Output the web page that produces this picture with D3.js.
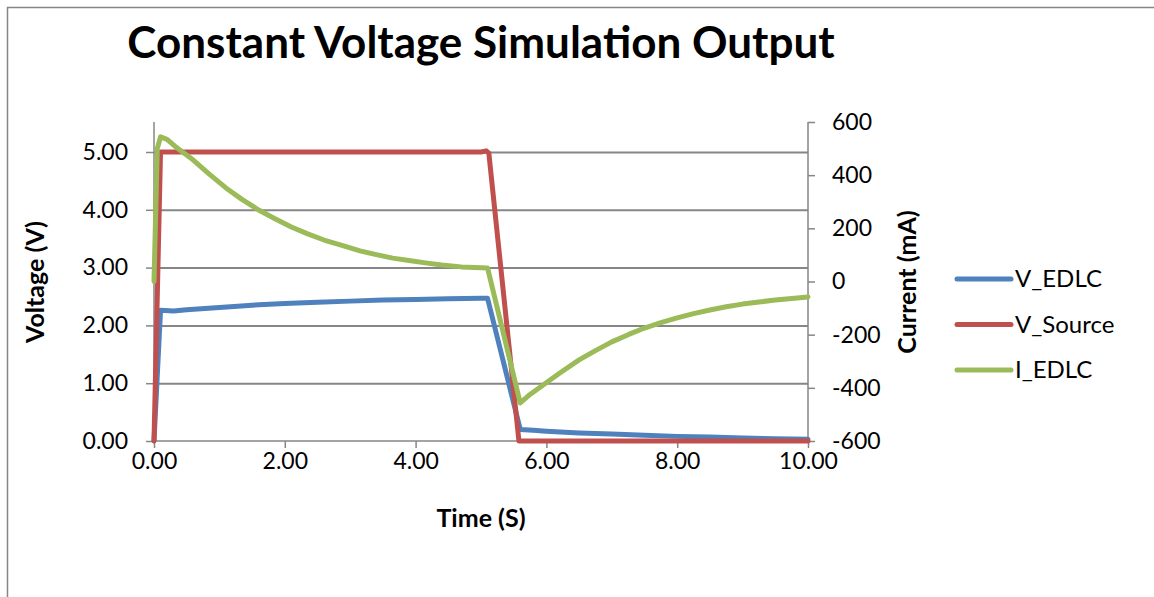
<!DOCTYPE html>
<html>
<head>
<meta charset="UTF-8">
<style>
body { margin: 0; background: #fff; }
svg text { font-family: Lato, "Open Sans", sans-serif; fill: #000; }
.axis path, .axis line { stroke: #868686; stroke-width: 1.5px; }
.axis text { font-size: 23px; }
.grid line { stroke: #868686; stroke-width: 2px; }
.grid path { display: none; }
.line { fill: none; stroke-width: 5px; stroke-linejoin: round; stroke-linecap: round; }
</style>
</head>
<body>
<svg width="1154" height="597"></svg>
<script src="https://cdnjs.cloudflare.com/ajax/libs/d3/7.8.5/d3.min.js"></script>
<script>
// time samples (s) and values
var tVSource = [0, 0.1, 1, 2, 3, 4, 5, 5.08, 5.12, 5.58, 6, 7, 8, 9, 10];
var vSource  = [0, 5.0, 5.0, 5.0, 5.0, 5.0, 5.0, 5.02, 4.98, 0.0, 0, 0, 0, 0, 0];

var tVEdlc = [0, 0.1, 0.3, 0.5, 1, 1.5, 2, 2.5, 3, 3.5, 4, 4.5, 5, 5.1, 5.6, 5.8, 6, 6.5, 7, 7.5, 8, 8.5, 9, 9.5, 10];
var vEdlc  = [0, 2.26, 2.25, 2.27, 2.31, 2.35, 2.38, 2.40, 2.42, 2.44, 2.45, 2.46, 2.47, 2.47, 0.20, 0.185, 0.17, 0.14, 0.12, 0.10, 0.08, 0.07, 0.05, 0.04, 0.03];

var tIEdlc = [0, 0.05, 0.1, 0.2, 0.35, 0.6, 0.85, 1.1, 1.35, 1.6, 1.85, 2.1, 2.35, 2.6, 2.9, 3.15, 3.4, 3.65, 3.9, 4.15, 4.4, 4.7, 5.1,
              5.6, 5.75, 5.95, 6.2, 6.5, 6.75, 7, 7.25, 7.5, 7.75, 8, 8.25, 8.5, 8.75, 9, 9.25, 9.5, 9.75, 10];
var iEdlc  = [0, 500, 544, 535, 503, 457, 403, 352, 308, 269, 236, 205, 179, 156, 134, 115, 101, 88, 79, 70, 62, 55, 51,
              -457, -425, -389, -345, -295, -260, -227, -200, -175, -155, -137, -121, -107, -95, -85, -77, -70, -64, -58];

var seriesNames = ["V_EDLC", "V_Source", "I_EDLC"];
var seriesColors = ["#4F81BD", "#C0504D", "#9BBB59"];

var xTicks = [0, 2, 4, 6, 8, 10];
var vTicks = [0, 1, 2, 3, 4, 5];
var iTicks = [-600, -400, -200, 0, 200, 400, 600];

var svg = d3.select("svg");

// chart border (top and left visible)
svg.append("path")
    .attr("d", "M7.5,597 L7.5,7.5 L1154,7.5")
    .attr("fill", "none")
    .attr("stroke", "#868686")
    .attr("stroke-width", 1.5);

var plotLeft = 154, plotRight = 808, plotBottom = 441, plotTop = 122;

var x = d3.scaleLinear().domain([0, 10]).range([plotLeft, plotRight]);
var yV = d3.scaleLinear().domain([0, 5]).range([plotBottom, 152]);
var yI = d3.scaleLinear().domain([-600, 600]).range([plotBottom, plotTop]);

// gridlines
svg.append("g")
    .attr("class", "grid")
    .attr("transform", "translate(" + plotLeft + ",0)")
    .call(d3.axisLeft(yV).tickValues(vTicks.slice(1)).tickSize(-(plotRight - plotLeft)).tickFormat(""));

// left axis
svg.append("g")
    .attr("class", "axis")
    .attr("transform", "translate(" + plotLeft + ",0)")
    .call(d3.axisLeft(yV).tickValues(vTicks).tickSize(8).tickPadding(18).tickFormat(d3.format(".2f")))
  .select(".domain").attr("d", "M0," + plotTop + "V" + plotBottom);

// right axis
svg.append("g")
    .attr("class", "axis")
    .attr("transform", "translate(" + plotRight + ",0)")
    .call(d3.axisRight(yI).tickValues(iTicks).tickSize(7).tickPadding(17).tickFormat(function(d) { return d < 0 ? "-" + Math.abs(d) : d; }))
  .select(".domain").attr("d", "M0," + plotTop + "V" + plotBottom);

// bottom axis
svg.append("g")
    .attr("class", "axis")
    .attr("transform", "translate(0," + plotBottom + ")")
    .call(d3.axisBottom(x).tickValues(xTicks).tickSize(7).tickPadding(5).tickFormat(d3.format(".2f")))
  .select(".domain").attr("d", "M" + plotLeft + ",0H" + plotRight);

// lines
var lineV = d3.line().x(function(d) { return x(d[0]); }).y(function(d) { return yV(d[1]); });
var lineI = d3.line().x(function(d) { return x(d[0]); }).y(function(d) { return yI(d[1]); });

svg.append("path").attr("class", "line").style("stroke", seriesColors[0])
    .attr("d", lineV(d3.zip(tVEdlc, vEdlc)));
svg.append("path").attr("class", "line").style("stroke", seriesColors[1])
    .attr("d", lineV(d3.zip(tVSource, vSource)));
svg.append("path").attr("class", "line").style("stroke", seriesColors[2])
    .attr("d", lineI(d3.zip(tIEdlc, iEdlc)));

// title
svg.append("text")
    .attr("x", 481).attr("y", 58)
    .attr("text-anchor", "middle")
    .style("font-size", "44px").style("font-weight", "bold")
    .text("Constant Voltage Simulation Output");

// axis titles
svg.append("text")
    .attr("x", 481).attr("y", 527)
    .attr("text-anchor", "middle")
    .style("font-size", "25px").style("font-weight", "bold")
    .text("Time (S)");

svg.append("text")
    .attr("transform", "translate(44,282) rotate(-90)")
    .attr("text-anchor", "middle")
    .style("font-size", "25px").style("font-weight", "bold")
    .text("Voltage (V)");

svg.append("text")
    .attr("transform", "translate(916,282) rotate(-90)")
    .attr("text-anchor", "middle")
    .style("font-size", "25px").style("font-weight", "bold")
    .text("Current (mA)");

// legend
var legend = svg.selectAll(".legend")
    .data(seriesNames)
  .enter().append("g")
    .attr("class", "legend")
    .attr("transform", function(d, i) { return "translate(957," + (279 + i * 45.5) + ")"; });

legend.append("line")
    .attr("x1", 0).attr("x2", 54)
    .attr("stroke", function(d, i) { return seriesColors[i]; })
    .attr("stroke-width", 5)
    .attr("stroke-linecap", "round");

legend.append("text")
    .attr("x", 58).attr("dy", "0.35em")
    .style("font-size", "24px")
    .text(function(d) { return d; });
</script>
</body>
</html>
